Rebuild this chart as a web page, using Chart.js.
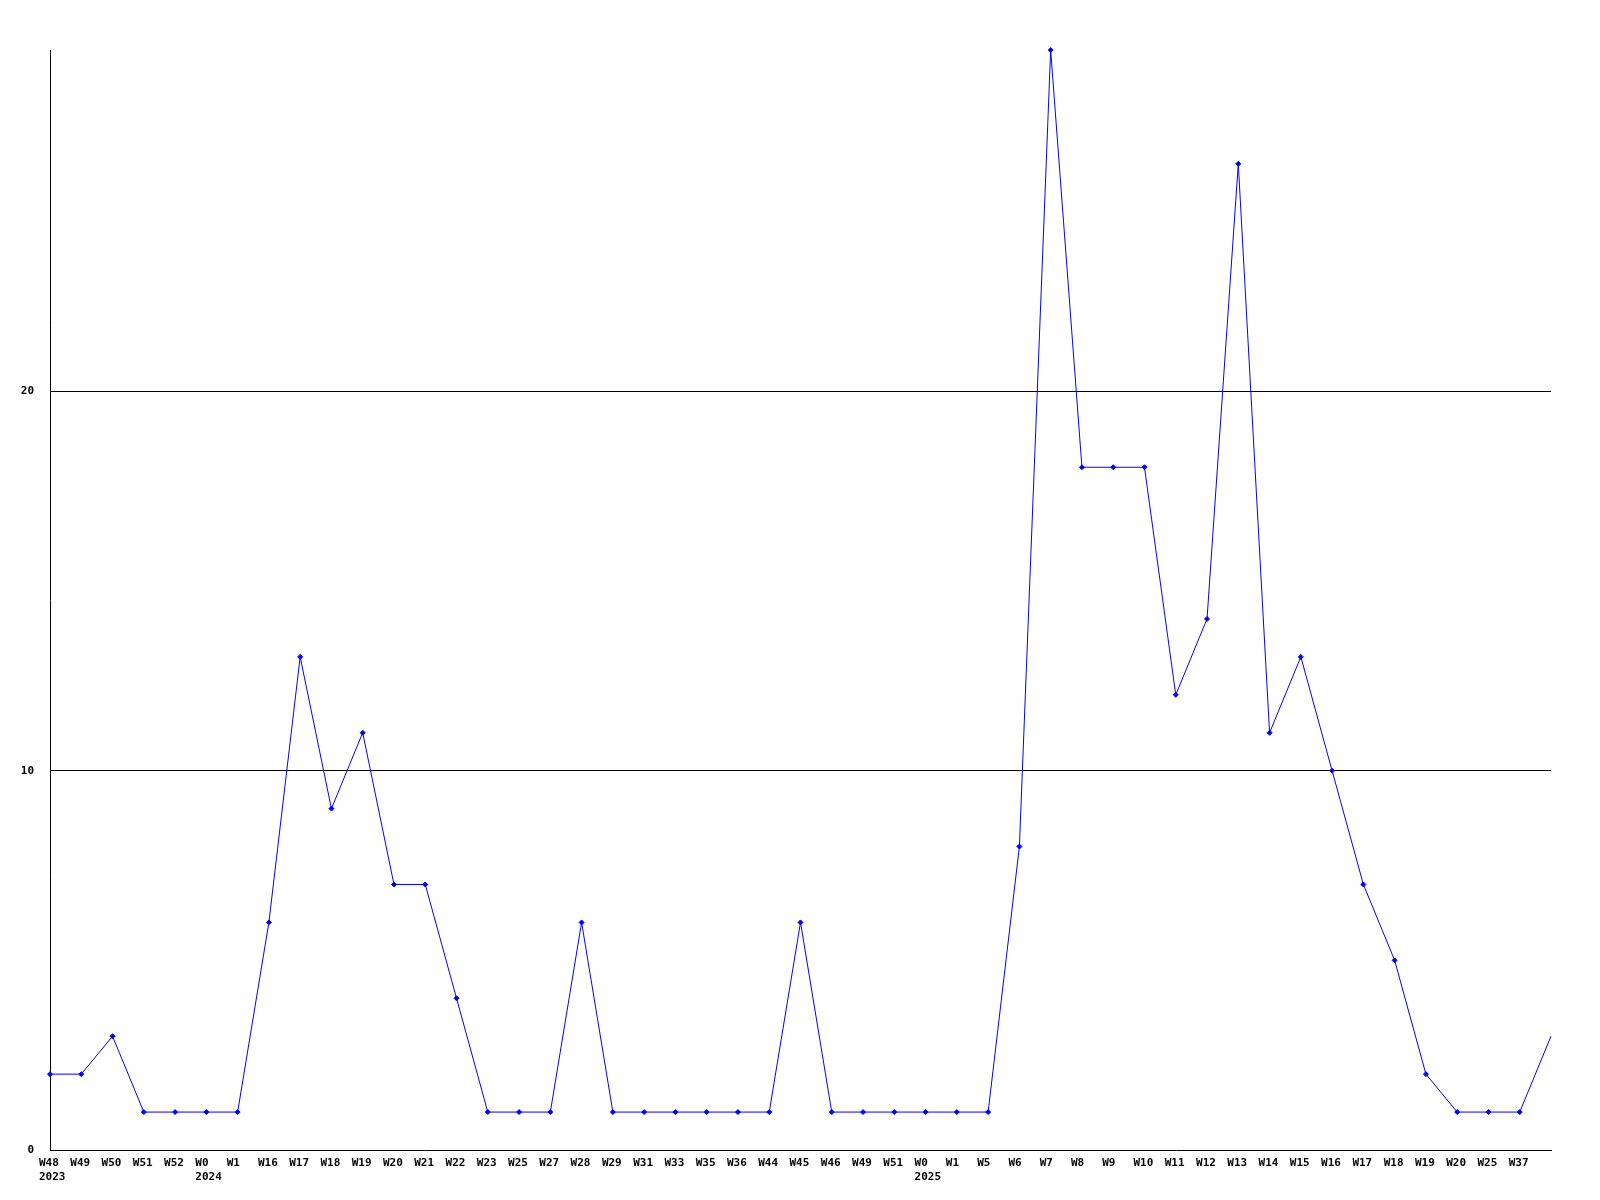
<!DOCTYPE html>
<html lang="en">
<head>
  <meta charset="UTF-8">
  <title>Weekly count</title>
  <script src="https://cdn.jsdelivr.net/npm/chart.js"></script>
  <style>
    body { margin: 0; background: #fff; }
    canvas { display: block; }
  </style>
</head>
<body>
  <canvas id="weekChart" width="1600" height="1200"></canvas>

  <script>
    // week labels, the year goes on a second line under the first week of that year
    const weeks = ['W48', 'W49', 'W50', 'W51', 'W52', 'W0', 'W1', 'W16', 'W17', 'W18',
      'W19', 'W20', 'W21', 'W22', 'W23', 'W25', 'W27', 'W28', 'W29', 'W31',
      'W33', 'W35', 'W36', 'W44', 'W45', 'W46', 'W49', 'W51', 'W0', 'W1',
      'W5', 'W6', 'W7', 'W8', 'W9', 'W10', 'W11', 'W12', 'W13', 'W14',
      'W15', 'W16', 'W17', 'W18', 'W19', 'W20', 'W25', 'W37', ''];
    const years = { 0: '2023', 5: '2024', 28: '2025' };
    const counts = [2, 2, 3, 1, 1, 1, 1, 6, 13, 9,
      11, 7, 7, 4, 1, 1, 1, 6, 1, 1,
      1, 1, 1, 1, 6, 1, 1, 1, 1, 1,
      1, 8, 29, 18, 18, 18, 12, 14, 26, 11,
      13, 10, 7, 5, 2, 1, 1, 1, 3];
    const yTicks = [0, 10, 20];
    const yMax = 29;

    const labels = weeks.map((w, i) => years[i] ? [w, years[i]] : w);
    // the last point runs off the edge without a marker
    const radii = counts.map((v, i) => i === counts.length - 1 ? 0 : 2.5);

    const tickFont = { family: 'DejaVu Sans Mono', size: 11, weight: 'bold', lineHeight: 1.27 };

    const ctx = document.getElementById('weekChart').getContext('2d');
    new Chart(ctx, {
      type: 'line',
      data: {
        labels: labels,
        datasets: [{
          data: counts,
          borderColor: '#0000ff',
          backgroundColor: '#0000ff',
          borderWidth: 1,
          pointStyle: 'rectRot',
          pointRadius: radii,
          pointBorderWidth: 1,
          tension: 0,
          fill: false,
          clip: false,
        }]
      },
      options: {
        responsive: false,
        animation: false,
        layout: { padding: { top: 50, right: 49, left: 0, bottom: 0 } },
        plugins: { legend: { display: false }, tooltip: { enabled: false } },
        scales: {
          x: {
            offset: false,
            grid: { display: false, drawTicks: false },
            border: { display: true, color: '#000', width: 1 },
            ticks: {
              autoSkip: false, maxRotation: 0, minRotation: 0,
              align: 'start', labelOffset: -11, padding: 6,
              color: '#000', font: tickFont
            },
            afterFit: axis => { axis.height = 50; }
          },
          y: {
            min: 0, max: yMax,
            afterBuildTicks: axis => { axis.ticks = yTicks.map(v => ({ value: v })); },
            grid: {
              drawTicks: false,
              color: c => c.tick && c.tick.value === 0 ? 'rgba(0,0,0,0)' : '#000',
              lineWidth: 1
            },
            border: { display: true, color: '#000', width: 1 },
            ticks: { padding: 16, color: '#000', font: tickFont },
            afterFit: axis => { axis.width = 50; }
          }
        }
      }
    });
  </script>
</body>
</html>
